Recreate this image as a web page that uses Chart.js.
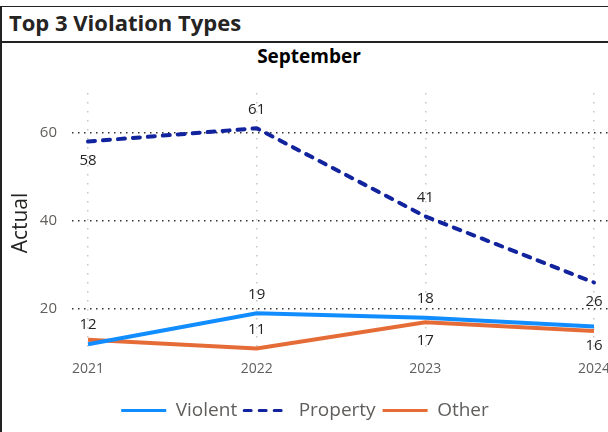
<!DOCTYPE html>
<html>
<head>
<meta charset="utf-8">
<script src="https://cdn.jsdelivr.net/npm/chart.js@4/dist/chart.umd.min.js"></script>
<style>
  body { margin: 0; width: 608px; height: 432px; overflow: hidden; background: #fff; font-family: "Open Sans", sans-serif; }
  #frame { position: absolute; left: 0; top: 6px; width: 620px; height: 440px; border-top: 1px solid #222; border-left: 2px solid #222; }
  #head { position: absolute; left: 0; top: 6px; width: 620px; height: 35px; border-bottom: 2px solid #222; }
  #head span { position: absolute; left: 9px; top: 1px; font-weight: bold; font-size: 22px; color: #252423; }
  #sub { position: absolute; left: 6px; width: 606px; top: 43px; text-align: center; font-weight: bold; font-size: 19px; color: #000; }
  #wrap { position: absolute; left: 2px; top: 44px; width: 606px; height: 388px; }
</style>
</head>
<body>
<div id="frame"></div>
<div id="head"><span>Top 3 Violation Types</span></div>
<div id="sub">September</div>
<div id="wrap"><canvas id="chart"></canvas></div>
<script>
// values
const years = [2021, 2022, 2023, 2024];
const violent = [12, 19, 18, 16];
const property = [58, 61, 41, 26];
const other = [13, 11, 17, 15];
const yTicks = [20, 40, 60];

// which side of the point each value label sits on ('' = hidden)
const violentSide = ['above', 'above', 'above', 'below'];
const propertySide = ['below', 'above', 'above', 'below'];
const otherSide = ['', 'above', 'below', ''];

const toPoints = (vals) => vals.map((v, i) => ({ x: years[i], y: v }));

// Draw value labels next to the points
const valueLabels = {
  id: 'valueLabels',
  afterDatasetsDraw(chart) {
    const ctx = chart.ctx;
    ctx.save();
    ctx.font = '15px "Open Sans", sans-serif';
    ctx.fillStyle = '#252423';
    ctx.textAlign = 'center';
    ctx.textBaseline = 'middle';
    chart.data.datasets.forEach((ds, i) => {
      const meta = chart.getDatasetMeta(i);
      meta.data.forEach((pt, j) => {
        const side = ds.labelSide[j];
        if (!side) return;
        ctx.fillText(ds.data[j].y, pt.x, pt.y + (side === 'above' ? -19 : 19));
      });
    });
    ctx.restore();
  }
};

new Chart(document.getElementById('chart'), {
  type: 'line',
  data: {
    datasets: [
      { label: 'Violent', data: toPoints(violent), labelSide: violentSide, borderColor: '#118DFF', backgroundColor: '#118DFF', borderWidth: 4 },
      { label: 'Property', data: toPoints(property), labelSide: propertySide, borderColor: '#12239E', backgroundColor: '#12239E', borderWidth: 4, borderDash: [7, 8], borderCapStyle: 'round' },
      { label: 'Other', data: toPoints(other), labelSide: otherSide, borderColor: '#E66C37', backgroundColor: '#E66C37', borderWidth: 4 }
    ]
  },
  options: {
    responsive: true,
    maintainAspectRatio: false,
    animation: false,
    elements: { point: { radius: 0, hoverRadius: 0, pointStyle: 'line' }, line: { tension: 0 } },
    layout: { padding: { top: 49, left: 0, right: 0, bottom: 2 } },
    scales: {
      x: {
        type: 'linear',
        min: 2020.905,
        max: 2024.083,
        afterBuildTicks: (s) => { s.ticks = years.map(v => ({ value: v })); },
        afterFit: (s) => { s.height = 41; s.paddingLeft = 0; s.paddingRight = 0; },
        border: { display: false, dash: [1.5, 7.5] },
        grid: { color: '#C8C6C4', lineWidth: 1.5, drawTicks: false },
        ticks: { padding: 8, color: '#605E5C', font: { family: '"Open Sans", sans-serif', size: 14 }, callback: (v) => String(v) }
      },
      y: {
        min: 10,
        max: 69,
        afterBuildTicks: (s) => { s.ticks = yTicks.map(v => ({ value: v })); },
        afterFit: (s) => { s.width = 70; s.paddingTop = 0; s.paddingBottom = 0; },
        border: { display: false, dash: [1.5, 4.5] },
        grid: { color: '#333', lineWidth: 1.5, drawTicks: false },
        ticks: { padding: 15, color: '#605E5C', font: { family: '"Open Sans", sans-serif', size: 15 } },
        title: { display: true, text: 'Actual', color: '#252423', padding: { top: 6, bottom: 0 }, font: { family: '"Open Sans", sans-serif', size: 21 } }
      }
    },
    plugins: {
      title: { display: false },
      tooltip: { enabled: false },
      legend: {
        position: 'bottom',
        labels: {
          usePointStyle: true,
          pointStyleWidth: 45,
          padding: 7,
          color: '#605E5C',
          font: { family: '"Open Sans", sans-serif', size: 19 },
          generateLabels: (chart) => Chart.defaults.plugins.legend.labels.generateLabels(chart).map((l, i) => {
            const ds = chart.data.datasets[i];
            return { ...l, lineWidth: 3, lineDash: ds.borderDash || [], lineCap: ds.borderCapStyle || 'butt' };
          })
        }
      }
    }
  },
  plugins: [valueLabels]
});
</script>
</body>
</html>
